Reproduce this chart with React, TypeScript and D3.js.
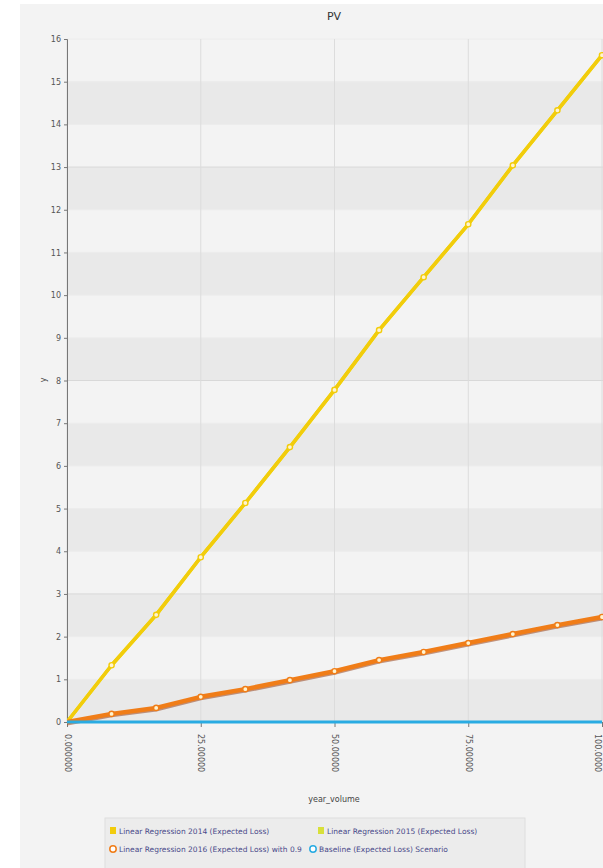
import React, { useEffect, useRef } from "react";
import * as d3 from "d3";

// Period index along the horizontal axis
const periods = [0, 1, 2, 3, 4, 5, 6, 7, 8, 9, 10, 11, 12];
// Series values
const reg2014 = [0, 1.33, 2.51, 3.86, 5.13, 6.44, 7.78, 9.18, 10.42, 11.66, 13.04, 14.33, 15.62];
const reg2015 = [0, 1.33, 2.51, 3.86, 5.13, 6.44, 7.78, 9.18, 10.42, 11.66, 13.04, 14.33, 15.62];
const reg2016 = [0, 0.19, 0.33, 0.59, 0.77, 0.98, 1.19, 1.45, 1.64, 1.85, 2.06, 2.27, 2.46];
const baseline = [0, 0, 0, 0, 0, 0, 0, 0, 0, 0, 0, 0, 0];
// Tick labels
const xTickValues = [0, 3, 6, 9, 12];
const xTickLabels = ["0.000000", "25.00000", "50.00000", "75.00000", "100.0000"];
const yTickValues = d3.range(0, 17);
const seriesNames = [
  "Linear Regression 2014 (Expected Loss)",
  "Linear Regression 2015 (Expected Loss)",
  "Linear Regression 2016 (Expected Loss) with 0.9",
  "Baseline (Expected Loss) Scenario",
];

const W = 603;
const H = 868;

export default function App() {
  const ref = useRef<SVGSVGElement | null>(null);

  useEffect(() => {
    const svg = d3.select(ref.current);
    svg.selectAll("*").remove();
    const font = "'DejaVu Sans', sans-serif";

    const left = 67, right = 602, top = 39, bottom = 722;
    const x = d3.scaleLinear().domain([0, 12]).range([left, right]);
    const y = d3.scaleLinear().domain([0, 16]).range([bottom, top]);

    svg.append("rect").attr("x", 20).attr("y", 4).attr("width", W - 20).attr("height", H - 4).attr("fill", "#f3f3f3");

    // alternating horizontal bands
    const bands = svg.append("g");
    yTickValues.slice(0, -1).forEach((v) => {
      if (v % 2 === 0) {
        bands.append("rect")
          .attr("x", left).attr("width", W - left)
          .attr("y", y(v + 1)).attr("height", y(v) - y(v + 1))
          .attr("fill", "#e9e9e9");
      }
    });
    // grid lines
    const grid = svg.append("g");
    yTickValues.forEach((v) => {
      grid.append("line").attr("x1", left).attr("x2", W).attr("y1", y(v)).attr("y2", y(v))
        .attr("stroke", v % 5 === 3 ? "#d8d8d8" : "#ececec").attr("stroke-width", 1);
    });
    xTickValues.forEach((v) => {
      grid.append("line").attr("x1", x(v)).attr("x2", x(v)).attr("y1", top).attr("y2", bottom)
        .attr("stroke", "#dcdcdc").attr("stroke-width", 1);
    });

    // axes
    const yAxis = d3.axisLeft(y).tickValues(yTickValues).tickSize(3).tickFormat(d3.format("d"));
    const gy = svg.append("g").attr("transform", `translate(${left},0)`).call(yAxis);
    gy.select(".domain").attr("stroke", "#777");
    gy.selectAll(".tick line").attr("stroke", "#777");
    gy.selectAll("text").attr("font-family", font).attr("font-size", 8).attr("fill", "#555");

    const xAxis = d3.axisBottom(x).tickValues(xTickValues).tickSize(5)
      .tickFormat((d, i) => xTickLabels[i]);
    const gx = svg.append("g").attr("transform", `translate(0,${bottom})`).call(xAxis);
    gx.select(".domain").attr("stroke", "#777");
    gx.selectAll(".tick line").attr("stroke", "#777");
    gx.selectAll("text")
      .attr("font-family", font).attr("font-size", 8).attr("fill", "#555")
      .attr("transform", "translate(0,12) rotate(90)")
      .attr("text-anchor", "start").attr("y", 0).attr("x", 0)
      .attr("dy", (_, i) => (i === xTickValues.length - 1 ? "1em" : "0.35em"));

    const line = d3.line<number>().x((_, i) => x(periods[i])).y((d) => y(d));
    const clip = svg.append("clipPath").attr("id", "plotclip");
    clip.append("rect").attr("x", left).attr("y", top - 10).attr("width", W - left + 10).attr("height", bottom - top + 20);
    const plot = svg.append("g").attr("clip-path", "url(#plotclip)");

    const series = [
      { data: reg2015, color: "#e8e000", w: 3.5 },
      { data: reg2014, color: "#f2cc0c", w: 3.5 },
      { data: reg2016, color: "#f07d18", w: 4.5 },
      { data: baseline, color: "#29abe2", w: 3 },
    ];
    // shadow under orange line
    plot.append("path").datum(reg2016).attr("d", line).attr("fill", "none")
      .attr("stroke", "#a0522d").attr("stroke-width", 4).attr("transform", "translate(0,1.5)").attr("opacity", 0.6);
    series.forEach((s) => {
      plot.append("path").datum(s.data).attr("d", line).attr("fill", "none")
        .attr("stroke", s.color).attr("stroke-width", s.w).attr("stroke-linejoin", "round");
    });
    [
      { data: reg2014, color: "#f2cc0c" },
      { data: reg2016, color: "#f07d18" },
    ].forEach((s) => {
      plot.selectAll(null).data(s.data.slice(1)).enter().append("circle")
        .attr("cx", (_, i) => x(periods[i + 1])).attr("cy", (d) => y(d)).attr("r", 2.6)
        .attr("fill", "#fff4d0").attr("stroke", s.color).attr("stroke-width", 1.4);
    });

    // titles
    svg.append("text").attr("x", 334).attr("y", 20).attr("text-anchor", "middle")
      .attr("font-family", font).attr("font-size", 11).attr("fill", "#333").text("PV");
    svg.append("text").attr("transform", `translate(46,380) rotate(-90)`).attr("text-anchor", "middle")
      .attr("font-family", font).attr("font-size", 8).attr("fill", "#444").text("y");
    svg.append("text").attr("x", 334).attr("y", 802).attr("text-anchor", "middle")
      .attr("font-family", font).attr("font-size", 8).attr("fill", "#444").text("year_volume");

    // legend
    const lg = svg.append("g");
    lg.append("rect").attr("x", 105).attr("y", 818).attr("width", 420).attr("height", 60)
      .attr("fill", "#ececec").attr("stroke", "#dedede");
    const items = [
      { x: 113, y: 831, color: "#f2cc0c", shape: "rect" },
      { x: 321, y: 831, color: "#d8e03a", shape: "rect" },
      { x: 113, y: 849, color: "#f07d18", shape: "circle" },
      { x: 313, y: 849, color: "#29abe2", shape: "circle" },
    ];
    items.forEach((it, i) => {
      if (it.shape === "rect") {
        lg.append("rect").attr("x", it.x - 3).attr("y", it.y - 4).attr("width", 6).attr("height", 7).attr("fill", it.color);
      } else {
        lg.append("circle").attr("cx", it.x).attr("cy", it.y).attr("r", 3.2).attr("fill", "#fff")
          .attr("stroke", it.color).attr("stroke-width", 1.5);
      }
      lg.append("text").attr("x", it.x + 6).attr("y", it.y).attr("dy", "0.35em")
        .attr("font-family", font).attr("font-size", 7.5).attr("fill", "#4a4a8a").text(seriesNames[i]);
    });
  }, []);

  return (
    <svg ref={ref} width={W} height={H}
      style={{ position: "absolute", left: 0, top: 0, background: "#fff" }} />
  );
}
